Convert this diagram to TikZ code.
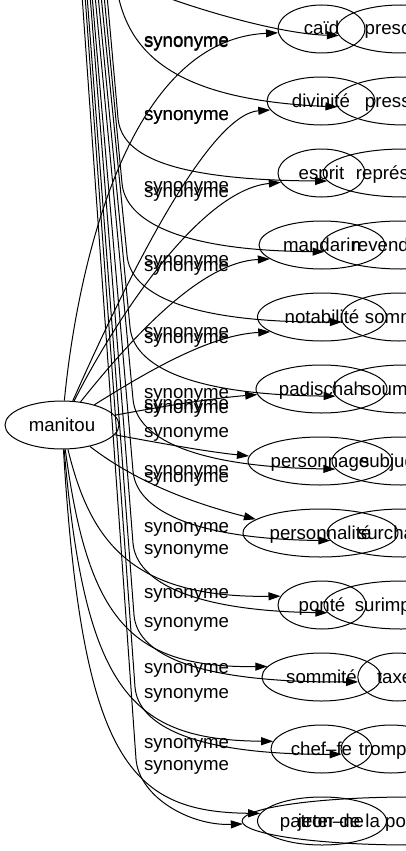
\documentclass[tikz,border=0pt]{standalone}
\usepackage{fontspec}
\setmainfont{Liberation Sans}
\usetikzlibrary{arrows.meta,shapes.geometric}

\begin{document}
\begin{tikzpicture}[
  x=1pt,y=-1pt,
  font=\fontsize{18.67}{22}\selectfont,
  line width=1pt,
  syn/.style={draw,ellipse,inner sep=0pt,minimum height=48pt,
    text height=12pt,text depth=0pt},
  lab/.style={anchor=base west,inner sep=0pt},
  arr/.style={-{Triangle[length=12pt,width=8pt]}}
]
\useasboundingbox (0,0) rectangle (406,851);
\clip (0,0) rectangle (406,851);

% manitou and its synonyms
\node[syn,minimum width=114pt] (manitou) at (62,425) {manitou};
\node[syn,minimum width=87pt]  (caid) at (321.5,29) {caïd};
\node[syn,minimum width=108pt] (divinite) at (321,101) {divinité};
\node[syn,minimum width=87pt]  (esprit) at (321.5,173) {esprit};
\node[syn,minimum width=126pt] (mandarin) at (322,245) {mandarin};
\node[syn,minimum width=129pt] (notabilite) at (322,317) {notabilité};
\node[syn,minimum width=131pt] (padischah) at (321.5,389) {padischah};
\node[syn,minimum width=144pt] (personnage) at (320,461) {personnage};
\node[syn,minimum width=155pt] (personnalite) at (320.5,533) {personnalité};
\node[syn,minimum width=88pt]  (ponte) at (322,605) {ponté};
\node[syn,minimum width=119pt] (sommite) at (321.5,677) {sommité};
\node[syn,minimum width=101pt] (chef) at (321.5,749) {chef–fe};
\node[syn,minimum width=129pt] (patron) at (322,821) {patron–ne};

% second graph, cut at the right edge
\node[syn,minimum width=128pt] (prescrire) at (401,29) {prescrire};
\node[syn,minimum width=137pt] (pressurer) at (404.4,101) {pressurer};
\node[syn,minimum width=161pt] (representer) at (403.7,173) {représenter};
\node[syn,minimum width=158pt] (revendiquer) at (401,245) {revendiquer};
\node[syn,minimum width=115pt] (sommer) at (398.7,317) {sommer};
\node[syn,minimum width=141pt] (soumettre) at (403.5,389) {soumettre};
\node[syn,minimum width=138pt] (subjuguer) at (401,461) {subjuguer};
\node[syn,minimum width=151pt] (surcharger) at (402.6,533) {surcharger};
\node[syn,minimum width=154pt] (surimposer) at (401,605) {surimposer};
\node[syn,minimum width=80pt]  (taxer) at (397.8,677) {taxer};
\node[syn,minimum width=100pt] (tromper) at (391,749) {tromper};
\node[syn,minimum width=337pt] (jeter) at (410.6,821) {jeter de la poudre aux yeux};

% edge labels
\node[lab] (l1) at (143.5,47) {synonyme};
\node[lab] (l2) at (143.5,47.5) {synonyme};
\node[lab] (l3) at (143.5,120) {synonyme};
\node[lab] (l4) at (143.5,120.5) {synonyme};
\node[lab] (l5) at (143.5,191) {synonyme};
\node[lab] (l6) at (143.5,197) {synonyme};
\node[lab] (l7) at (143.5,265) {synonyme};
\node[lab] (l8) at (143.5,271) {synonyme};
\node[lab] (l9) at (143.5,337) {synonyme};
\node[lab] (l10) at (143.5,343) {synonyme};
\node[lab] (l11) at (143.5,398) {synonyme};
\node[lab] (l12) at (143.5,409) {synonyme};
\node[lab] (l13) at (143.5,413) {synonyme};
\node[lab] (l14) at (143.5,437) {synonyme};
\node[lab] (l15) at (143.5,475) {synonyme};
\node[lab] (l16) at (143.5,482) {synonyme};
\node[lab] (l17) at (143.5,532) {synonyme};
\node[lab] (l18) at (143.5,554) {synonyme};
\node[lab] (l19) at (143.5,598) {synonyme};
\node[lab] (l20) at (143.5,627) {synonyme};
\node[lab] (l21) at (143.5,673) {synonyme};
\node[lab] (l22) at (143.5,698) {synonyme};
\node[lab] (l23) at (143.5,748) {synonyme};
\node[lab] (l24) at (143.5,770) {synonyme};

% manitou -> synonyms
\draw[arr] (manitou) .. controls (75,290) and (120,40) .. (caid.185);
\draw[arr] (manitou) .. controls (100,340) and (200,115) .. (divinite.190);
\draw[arr] (manitou) .. controls (115,320) and (200,190) .. (esprit.193);
\draw[arr] (manitou) .. controls (130,340) and (200,262) .. (mandarin.195);
\draw[arr] (manitou) .. controls (150,370) and (210,335) .. (notabilite.196);
\draw[arr] (manitou) .. controls (170,405) and (215,398) .. (padischah.185);
\draw[arr] (manitou) .. controls (170,445) and (210,452) .. (personnage.176);
\draw[arr] (manitou) .. controls (140,485) and (200,505) .. (personnalite.168);
\draw[arr] (manitou) .. controls (90,540) and (130,598) .. (ponte.168);
\draw[arr] (manitou) .. controls (88,620) and (130,668) .. (sommite.169);
\draw[arr] (manitou) .. controls (85,690) and (130,740) .. (chef.171);
\draw[arr] (manitou) .. controls (82,760) and (130,812) .. (patron.173);

% edges of the second graph, source above the picture
\coordinate (b1) at (160,-5);
\coordinate (b2) at (118,-5);
\coordinate (b3) at (107,-5);
\coordinate (b4) at (104,-5);
\coordinate (b5) at (101,-5);
\coordinate (b6) at (98,-5);
\coordinate (b7) at (95,-5);
\coordinate (b8) at (92,-5);
\coordinate (b9) at (90,-5);
\coordinate (b10) at (87,-5);
\coordinate (b11) at (85,-5);
\coordinate (b12) at (82,-5);
\draw[arr] (b1) .. controls (200,10) and (280,34) .. (prescrire.186);
\draw[arr] (b2) .. controls (130,50) and (170,100) .. (pressurer.185);
\draw[arr] (b3) -- (118,118) .. controls (121,153) and (163,180) .. (representer.186);
\draw[arr] (b4) -- (122,183) .. controls (125,221) and (180,251) .. (revendiquer.185);
\draw[arr] (b5) -- (127,255) .. controls (130,293) and (185,323) .. (sommer.185);
\draw[arr] (b6) -- (130,327) .. controls (133,365) and (188,395) .. (soumettre.186);
\draw[arr] (b7) -- (133,399) .. controls (136,437) and (191,467) .. (subjuguer.187);
\draw[arr] (b8) -- (133,471) .. controls (136,509) and (191,539) .. (surcharger.186);
\draw[arr] (b9) -- (133,543) .. controls (136,581) and (191,611) .. (surimposer.186);
\draw[arr] (b10) -- (134,615) .. controls (137,653) and (192,683) .. (taxer.187);
\draw[arr] (b11) -- (135,687) .. controls (138,725) and (193,755) .. (tromper.186);
\draw[arr] (b12) -- (136,759) .. controls (139,797) and (190,826) .. (jeter.181);
\end{tikzpicture}
\end{document}
